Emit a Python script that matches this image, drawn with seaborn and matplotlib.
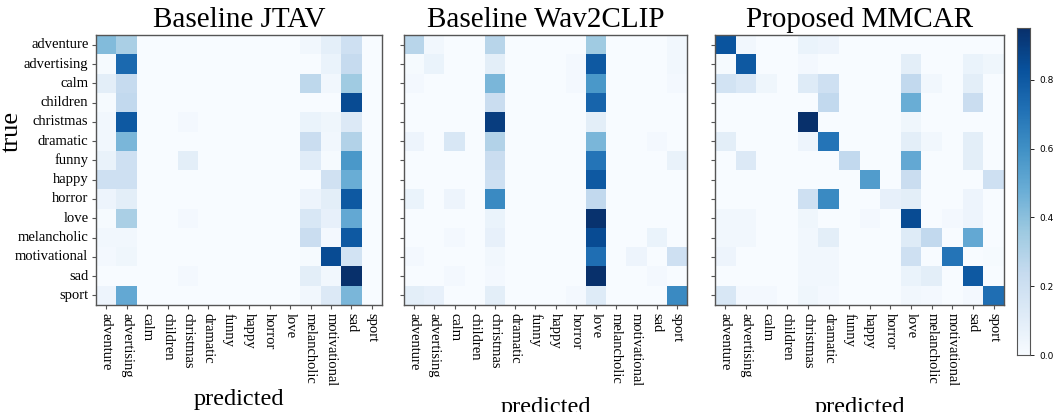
import numpy as np
import pandas as pd
import matplotlib
matplotlib.use('Agg')
import matplotlib.pyplot as plt
import seaborn as sns

# Class labels (rows = true, columns = predicted)
classes = ['adventure', 'advertising', 'calm', 'children', 'christmas', 'dramatic', 'funny',
           'happy', 'horror', 'love', 'melancholic', 'motivational', 'sad', 'sport']

titles = ['Baseline JTAV', 'Baseline Wav2CLIP', 'Proposed MMCAR']

# Confusion matrices (row-normalised, approximate)
cm_jtav = [
    [0.42, 0.32, 0, 0, 0, 0, 0, 0, 0, 0, 0.03, 0.09, 0.20, 0],
    [0.01, 0.74, 0, 0, 0, 0, 0, 0, 0, 0, 0.00, 0.06, 0.24, 0],
    [0.10, 0.24, 0, 0, 0, 0, 0, 0, 0, 0, 0.26, 0.03, 0.35, 0],
    [0.01, 0.25, 0, 0, 0, 0, 0, 0, 0, 0, 0.00, 0.00, 0.85, 0],
    [0.03, 0.80, 0, 0, 0.02, 0, 0, 0, 0, 0, 0.06, 0.04, 0.13, 0],
    [0.03, 0.44, 0, 0, 0, 0, 0, 0, 0, 0, 0.22, 0.03, 0.30, 0],
    [0.07, 0.20, 0, 0, 0.10, 0, 0, 0, 0, 0, 0.11, 0.01, 0.57, 0],
    [0.20, 0.20, 0, 0, 0, 0, 0, 0, 0, 0, 0.00, 0.19, 0.48, 0],
    [0.05, 0.10, 0, 0, 0, 0, 0, 0, 0, 0, 0.05, 0.10, 0.80, 0],
    [0.01, 0.32, 0, 0, 0.02, 0, 0, 0, 0, 0, 0.15, 0.08, 0.50, 0],
    [0.03, 0.03, 0, 0, 0, 0, 0, 0, 0, 0, 0.22, 0.02, 0.80, 0],
    [0.02, 0.04, 0, 0, 0, 0, 0, 0, 0, 0, 0.01, 0.85, 0.18, 0],
    [0.00, 0.00, 0, 0, 0.02, 0, 0, 0, 0, 0, 0.10, 0.03, 0.95, 0],
    [0.05, 0.50, 0, 0, 0, 0, 0, 0, 0, 0, 0.03, 0.13, 0.44, 0],
]

cm_wav2clip = [
    [0.28, 0.03, 0, 0, 0.28, 0, 0, 0, 0, 0.35, 0, 0, 0, 0.03],
    [0.01, 0.06, 0, 0, 0.10, 0, 0, 0, 0.02, 0.80, 0, 0, 0, 0.03],
    [0.02, 0, 0, 0, 0.44, 0, 0, 0, 0.02, 0.57, 0, 0, 0, 0.02],
    [0, 0, 0, 0, 0.22, 0, 0, 0, 0, 0.76, 0, 0, 0, 0],
    [0, 0, 0, 0, 0.90, 0, 0, 0, 0, 0.10, 0, 0, 0, 0],
    [0.05, 0, 0.15, 0, 0.30, 0, 0, 0, 0, 0.44, 0, 0, 0.02, 0],
    [0, 0, 0, 0, 0.22, 0, 0, 0, 0, 0.70, 0, 0, 0, 0.07],
    [0, 0, 0, 0, 0.20, 0, 0, 0, 0, 0.80, 0, 0, 0, 0],
    [0.06, 0, 0.05, 0, 0.62, 0, 0, 0, 0, 0.25, 0, 0, 0, 0],
    [0, 0, 0, 0, 0.06, 0, 0, 0, 0, 0.94, 0, 0, 0, 0],
    [0, 0, 0.02, 0, 0.08, 0, 0, 0, 0, 0.85, 0, 0, 0.06, 0],
    [0.02, 0, 0, 0, 0.03, 0, 0, 0, 0, 0.72, 0, 0.05, 0, 0.20],
    [0, 0, 0.02, 0, 0.02, 0, 0, 0, 0, 0.95, 0, 0, 0.02, 0],
    [0.10, 0.08, 0, 0, 0.10, 0, 0, 0, 0.02, 0.12, 0, 0, 0, 0.62],
]

cm_mmcar = [
    [0.82, 0.03, 0, 0, 0.06, 0.05, 0, 0, 0, 0, 0, 0, 0, 0],
    [0.01, 0.80, 0, 0, 0.02, 0, 0, 0, 0, 0.10, 0, 0, 0.06, 0.04],
    [0.18, 0.14, 0.04, 0, 0.12, 0.20, 0, 0, 0, 0.25, 0.03, 0, 0.10, 0],
    [0, 0, 0, 0, 0, 0.25, 0, 0, 0, 0.48, 0, 0, 0.22, 0],
    [0, 0, 0, 0, 0.95, 0, 0, 0, 0, 0.04, 0, 0, 0, 0],
    [0.10, 0, 0, 0, 0.05, 0.70, 0, 0, 0, 0.10, 0.03, 0, 0.10, 0],
    [0, 0.13, 0, 0, 0, 0, 0.25, 0, 0, 0.50, 0, 0, 0.10, 0],
    [0, 0, 0, 0, 0, 0, 0, 0.55, 0, 0.22, 0, 0, 0, 0.20],
    [0, 0, 0, 0, 0.20, 0.62, 0, 0, 0.08, 0.10, 0, 0, 0.05, 0],
    [0.03, 0.03, 0, 0, 0.04, 0, 0, 0.02, 0, 0.85, 0, 0.02, 0.05, 0],
    [0.03, 0.03, 0, 0, 0.03, 0.10, 0, 0, 0, 0.12, 0.25, 0, 0.50, 0],
    [0.05, 0, 0, 0, 0.03, 0.03, 0, 0, 0, 0.20, 0, 0.70, 0, 0.01],
    [0, 0, 0, 0, 0.03, 0.03, 0, 0, 0, 0.06, 0.10, 0, 0.80, 0],
    [0.15, 0.02, 0.02, 0, 0.04, 0.02, 0, 0, 0, 0.03, 0.02, 0, 0.02, 0.72],
]

matrices = [cm_jtav, cm_wav2clip, cm_mmcar]

serif = ['Liberation Serif', 'DejaVu Serif']

fig = plt.figure(figsize=(10.53, 4.12), dpi=100)
positions = [
    [0.0912, 0.2597, 0.2716, 0.655],
    [0.3837, 0.2597, 0.2688, 0.655],
    [0.6790, 0.2597, 0.2745, 0.655],
]
xlabel_pads = [2, 8, 8]
cbar_ax = fig.add_axes([0.9658, 0.138, 0.0125, 0.794])

for i, (cm, title, pos) in enumerate(zip(matrices, titles, positions)):
    ax = fig.add_axes(pos)
    df = pd.DataFrame(cm, index=classes, columns=classes)
    sns.heatmap(df, ax=ax, cmap='Blues', vmin=0, vmax=0.95,
                cbar=(i == 2), cbar_ax=cbar_ax if i == 2 else None,
                xticklabels=True, yticklabels=(i == 0), square=False)
    for sp in ax.spines.values():
        sp.set_visible(True)
        sp.set_color('#555555')
        sp.set_linewidth(1.0)
    ax.tick_params(axis='both', length=3, width=0.8, color='#555555', pad=2.5)
    ax.set_xticklabels(classes, rotation=-90, fontsize=10.5, family=serif)
    if i == 0:
        ax.set_yticklabels(classes, rotation=0, fontsize=10.5, family=serif)
        ax.set_ylabel('true', fontsize=19, family=serif)
        ax.yaxis.set_label_coords(-0.255, 0.644)
    else:
        ax.set_yticks(np.arange(len(classes)) + 0.5)
        ax.set_yticklabels([])
    ax.set_title(title, fontsize=21, family=serif, pad=6)
    ax.set_xlabel('predicted', fontsize=17.5, family=serif, labelpad=xlabel_pads[i])

cbar_ax.tick_params(labelsize=6.5, length=3, width=0.6)
cbar_ax.set_yticks([0.0, 0.2, 0.4, 0.6, 0.8])
for sp in cbar_ax.spines.values():
    sp.set_visible(True)
    sp.set_color('#555555')

fig.savefig('out.png', dpi=100)
